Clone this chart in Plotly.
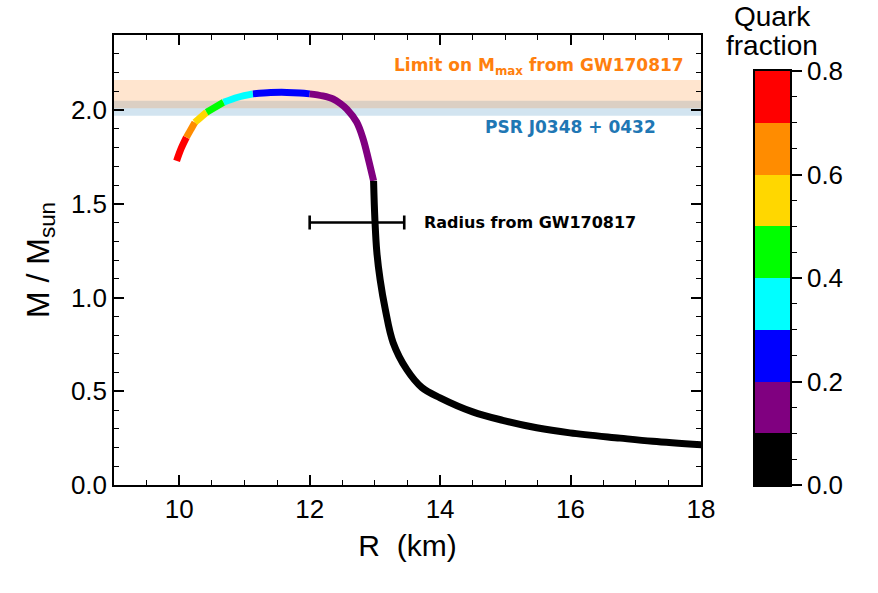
import plotly.graph_objects as go

# ---------------- data ----------------
R_KM = [9.96, 10.03, 10.11, 10.24, 10.42, 10.68, 10.90, 11.13, 11.40, 11.65, 11.85,
        12.00, 12.20, 12.36, 12.47, 12.57, 12.72, 12.82, 12.90, 12.98, 13.00, 13.03,
        13.08, 13.16, 13.28, 13.49, 13.72, 14.00, 14.50, 14.96, 15.48, 15.99, 16.76,
        17.26, 18.01]
M_MSUN = [1.729, 1.795, 1.854, 1.934, 1.988, 2.041, 2.068, 2.086, 2.093, 2.094, 2.091,
          2.086, 2.075, 2.059, 2.035, 2.005, 1.936, 1.845, 1.738, 1.622, 1.417, 1.241,
          1.096, 0.936, 0.759, 0.615, 0.520, 0.465, 0.390, 0.345, 0.305, 0.278, 0.250,
          0.233, 0.214]
QUARK_FRAC = [0.78, 0.74, 0.68, 0.58, 0.48, 0.38, 0.33, 0.28, 0.26, 0.24, 0.22,
              0.19, 0.17, 0.16, 0.15, 0.14, 0.13, 0.12, 0.11, 0.09, 0.07, 0.05,
              0.03, 0.02, 0.01, 0.0, 0.0, 0.0, 0.0, 0.0, 0.0, 0.0, 0.0,
              0.0, 0.0]

BIN_COLORS = ["#000000", "#800080", "#0000ff", "#00ffff",
              "#00ff00", "#ffd700", "#ff8c00", "#ff0000"]
BIN_EDGES = [0.0, 0.1, 0.2, 0.3, 0.4, 0.5, 0.6, 0.7, 0.8]
CBAR_TICKS = [0.0, 0.2, 0.4, 0.6, 0.8]

MMAX_BAND = [2.01, 2.16]     # limit on Mmax from GW170817
PSR_BAND = [1.97, 2.05]      # PSR J0348+0432
GW_RADIUS = [12.0, 13.45]    # radius range from GW170817
GW_RADIUS_MASS = 1.40

X_RANGE = [9, 18]
Y_RANGE = [0, 2.4]

# ---------------- figure ----------------
W, H = 878, 593
ML, MR, MT, MB = 114, 50, 35, 108
PW = W - ML - MR
PH = H - MT - MB
plot_right_px = 701
cb_left_px, cb_right_px = 755, 790
cb_top_px = 71

def bin_of(q):
    for i in range(len(BIN_EDGES) - 1):
        if q < BIN_EDGES[i + 1]:
            return i
    return len(BIN_EDGES) - 2

colorscale = []
nb = len(BIN_COLORS)
for i, c in enumerate(BIN_COLORS):
    colorscale.append([i / nb, c])
    colorscale.append([(i + 1) / nb, c])

fig = go.Figure()

# curve split into colour runs
bins = [bin_of(q) for q in QUARK_FRAC]
start = 0
n = len(R_KM)
while start < n - 1:
    b = bins[start]
    end = start
    while end + 1 < n and bins[end + 1] == b:
        end += 1
    stop = min(end + 1, n - 1)
    fig.add_trace(go.Scatter(
        x=R_KM[start:stop + 1], y=M_MSUN[start:stop + 1],
        mode="lines", line=dict(color=BIN_COLORS[b], width=7, shape="spline"),
        showlegend=False, hoverinfo="skip", xaxis="x", yaxis="y"))
    start = end + 1 if end + 1 > start else start + 1

# radius error bar
rc = (GW_RADIUS[0] + GW_RADIUS[1]) / 2
rh = (GW_RADIUS[1] - GW_RADIUS[0]) / 2
fig.add_trace(go.Scatter(
    x=[rc], y=[GW_RADIUS_MASS], mode="markers",
    marker=dict(size=1, color="rgba(0,0,0,0)"),
    error_x=dict(type="data", array=[rh], color="black", thickness=2.6, width=7),
    showlegend=False, hoverinfo="skip", xaxis="x", yaxis="y"))

# colour bar as heatmap
centers = [(BIN_EDGES[i] + BIN_EDGES[i + 1]) / 2 for i in range(nb)]
fig.add_trace(go.Heatmap(
    x=[0], y=centers, z=[[c] for c in centers],
    colorscale=colorscale, zmin=BIN_EDGES[0], zmax=BIN_EDGES[-1],
    showscale=False, hoverinfo="skip", xaxis="x2", yaxis="y2"))

font_main = "Liberation Sans, Arial, sans-serif"
font_title = "Liberation Sans, Arial, sans-serif"
font_bold = "DejaVu Sans, sans-serif"

x_dom_r = (plot_right_px - ML) / PW
axis_common = dict(
    showline=True, linecolor="black", linewidth=1.5, mirror="allticks",
    ticks="inside", ticklen=10, tickwidth=1.5, tickcolor="black",
    showgrid=False, zeroline=False,
    tickfont=dict(family=font_main, size=26, color="black"),
)

fig.update_layout(
    width=W, height=H,
    margin=dict(l=ML, r=MR, t=MT, b=MB, pad=0),
    paper_bgcolor="white", plot_bgcolor="white",
    xaxis=dict(domain=[0, x_dom_r], range=X_RANGE, dtick=2, tick0=0,
               minor=dict(dtick=0.5, ticks="inside", ticklen=5, tickwidth=1.2, tickcolor="black"),
               title=dict(text="R  (km)", font=dict(family=font_title, size=30, color="black"), standoff=12),
               anchor="y", **axis_common),
    yaxis=dict(domain=[0, 1], range=Y_RANGE, dtick=0.5, tick0=0, tickformat=".1f",
               minor=dict(dtick=0.1, ticks="inside", ticklen=5, tickwidth=1.2, tickcolor="black"),
               title=dict(text="M / M<sub>sun</sub>", font=dict(family=font_title, size=32, color="black"), standoff=12),
               anchor="x", **axis_common),
    xaxis2=dict(domain=[(cb_left_px - ML) / PW, (cb_right_px - ML) / PW], range=[-0.5, 0.5],
                showticklabels=False, ticks="", showgrid=False, zeroline=False,
                showline=True, linecolor="black", linewidth=1.5, mirror=True,
                anchor="y2", fixedrange=True),
    yaxis2=dict(domain=[0, (H - MB - cb_top_px) / PH], range=[BIN_EDGES[0], BIN_EDGES[-1]],
                side="right", anchor="x2", tickvals=CBAR_TICKS, tickformat=".1f",
                ticks="outside", ticklen=10, tickwidth=1.5, tickcolor="black",
                minor=dict(dtick=0.05, ticks="outside", ticklen=5, tickwidth=1.2, tickcolor="black"),
                showgrid=False, zeroline=False,
                showline=True, linecolor="black", linewidth=1.5, mirror=True,
                tickfont=dict(family=font_main, size=26, color="black"), fixedrange=True),
    shapes=[
        dict(type="rect", xref="x domain", yref="y", x0=0, x1=1,
             y0=PSR_BAND[0], y1=PSR_BAND[1], fillcolor="rgba(31,119,180,0.2)",
             line=dict(width=0), layer="below"),
        dict(type="rect", xref="x domain", yref="y", x0=0, x1=1,
             y0=MMAX_BAND[0], y1=MMAX_BAND[1], fillcolor="rgba(255,127,14,0.2)",
             line=dict(width=0), layer="below"),
    ],
    annotations=[
        dict(text="Limit on M<sub>max</sub> from GW170817", x=17.77, y=2.23, xref="x", yref="y",
             xanchor="right", yanchor="middle", showarrow=False,
             font=dict(family=font_bold, size=17, color="#ff7f0e", weight="bold")),
        dict(text="PSR J0348 + 0432", x=17.34, y=1.909, xref="x", yref="y",
             xanchor="right", yanchor="middle", showarrow=False,
             font=dict(family=font_bold, size=17, color="#1f77b4", weight="bold")),
        dict(text="Radius from GW170817", x=13.72, y=1.40, xref="x", yref="y",
             xanchor="left", yanchor="middle", showarrow=False,
             font=dict(family=font_bold, size=16, color="black", weight="bold")),
        dict(text="Quark", x=(772 - ML) / PW, y=(H - MB - 16) / PH, xref="paper", yref="paper",
             xanchor="center", yanchor="middle", showarrow=False,
             font=dict(family=font_title, size=28, color="black")),
        dict(text="fraction", x=(772 - ML) / PW, y=(H - MB - 45) / PH, xref="paper", yref="paper",
             xanchor="center", yanchor="middle", showarrow=False,
             font=dict(family=font_title, size=28, color="black")),
    ],
)

fig.write_html("out.html")
